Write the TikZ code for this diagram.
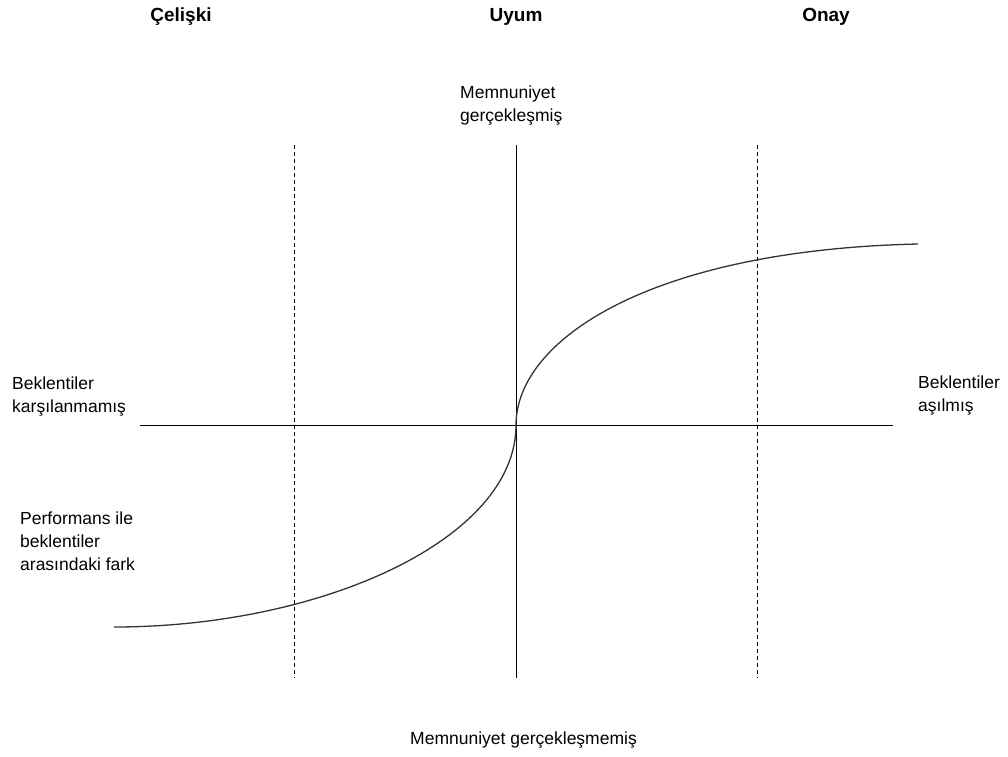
\documentclass[tikz,border=0pt]{standalone}
\usepackage{fontspec}
\setmainfont{Liberation Sans}
\begin{document}
\begin{tikzpicture}[x=1pt,y=-1pt,
  lbl/.style={anchor=west,inner sep=0pt,align=left,font=\fontsize{17.5}{23}\selectfont},
  ttl/.style={anchor=center,inner sep=0pt,font=\fontsize{19}{23}\selectfont\bfseries},
  axis/.style={line width=1pt,black},
  guide/.style={line width=0.8pt,black,dash pattern=on 4pt off 3pt},
  curve/.style={line width=1.3pt,black!80}]
\useasboundingbox (0,0) rectangle (1008,756);

% column headings
\node[ttl] (celiski) at (181,17) {Çelişki};
\node[ttl] (uyum) at (516,17) {Uyum};
\node[ttl] (onay) at (826,17) {Onay};

% axis ends and dashed guides
\coordinate (vtop) at (516,145);
\coordinate (vbot) at (516,678);
\coordinate (hl) at (140,425);
\coordinate (hr) at (893,425);
\coordinate (o) at (516,425);
\coordinate (g1t) at (294,145);
\coordinate (g1b) at (294,678);
\coordinate (g2t) at (757,145);
\coordinate (g2b) at (757,678);

\draw[axis] (vtop) -- (vbot);
\draw[axis] (hl) -- (hr);
\draw[guide] (g1t) -- (g1b);
\draw[guide] (g2t) -- (g2b);

% response curve
\coordinate (cl) at (114,627);
\coordinate (cr) at (918,244);
\draw[curve] (cl) .. controls (320,627) and (516,540) .. (o)
             .. controls (516,340) and (650,250) .. (cr);

% labels
\node[lbl] (top) at (460,106) {Memnuniyet\\gerçekleşmiş};
\node[lbl] (left) at (12,397) {Beklentiler\\karşılanmamış};
\node[lbl] (right) at (918,396) {Beklentiler\\aşılmış};
\node[lbl] (gap) at (20,541) {Performans ile\\beklentiler\\arasındaki fark};
\node[lbl] (bottom) at (410,740) {Memnuniyet gerçekleşmemiş};
\end{tikzpicture}
\end{document}
